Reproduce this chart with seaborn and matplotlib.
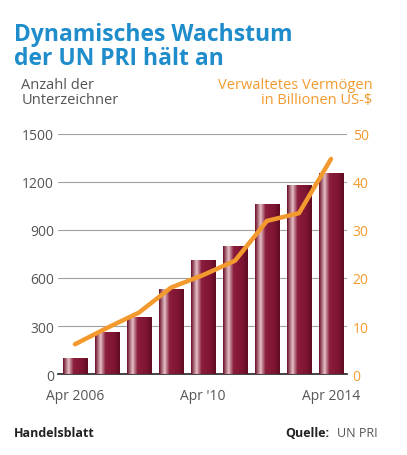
import numpy as np
import pandas as pd
import seaborn as sns
import matplotlib.pyplot as plt
from matplotlib.colors import LinearSegmentedColormap

# data
years = ['2006', '2007', '2008', '2009', '2010', '2011', '2012', '2013', '2014']
signatories = [100, 264, 354, 531, 714, 798, 1062, 1181, 1254]
assets = [6.2, 9.6, 12.8, 18.0, 20.6, 23.6, 31.9, 33.5, 44.8]
tick_labels = ['Apr 2006', '', '', '', "Apr '10", '', '', '', 'Apr 2014']

BLUE = '#1f8ccb'
ORANGE = '#f39a2e'
MAROON = '#7c1432'
GREY = '#555555'

sns.set_style('white')
plt.rcParams['font.family'] = ['Open Sans', 'DejaVu Sans']

df = pd.DataFrame({'year': years, 'signatories': signatories, 'assets': assets})

fig = plt.figure(figsize=(4.07, 4.56), dpi=100)
ax = fig.add_axes([0.1425, 0.1776, 0.7101, 0.5264])

sns.barplot(data=df, x='year', y='signatories', color=MAROON, width=0.75,
            saturation=1, ax=ax, zorder=2)

# shiny gradient on each bar
shine = LinearSegmentedColormap.from_list(
    'shine', [(0, '#6a0f28'), (0.22, '#e6c1c7'), (0.42, '#8a1e3c'),
              (0.8, MAROON), (1, '#5e0c22')])
grad = np.linspace(0, 1, 64).reshape(1, -1)
for p in ax.patches:
    x0, y0 = p.get_x(), p.get_y()
    w, h = p.get_width(), p.get_height()
    im = ax.imshow(grad, cmap=shine, aspect='auto', extent=[x0, x0 + w, y0, y0 + h],
                   zorder=3)
    im.set_clip_path(p)

ax.set_xlim(-0.53, 8.5)
ax.set_ylim(0, 1500)
ax.set_yticks([0, 300, 600, 900, 1200, 1500])
ax.yaxis.grid(True, color='#a0a0a0', linewidth=0.8, zorder=0)
ax.set_axisbelow(True)
ax.set_xticks(range(9))
ax.set_xticklabels(tick_labels, color=GREY, fontsize=10)
ax.tick_params(axis='x', length=0, pad=10)
ax.tick_params(axis='y', length=0, labelcolor=GREY, labelsize=10, pad=3)
ax.set_xticks(np.arange(0.5, 8.5, 1), minor=True)
ax.tick_params(axis='x', which='minor', direction='in', length=3, color='black', width=0.8)
ax.set_xlabel('')
ax.set_ylabel('')
for s in ['top', 'right', 'left']:
    ax.spines[s].set_visible(False)
ax.spines['bottom'].set_color('#222222')
ax.spines['bottom'].set_linewidth(1.2)

ax2 = ax.twinx()
sns.lineplot(x=np.arange(9), y=df['assets'], color=ORANGE, linewidth=3.2, ax=ax2,
             zorder=4)
ax2.set_ylim(0, 50)
ax2.set_yticks([0, 10, 20, 30, 40, 50])
ax2.tick_params(axis='y', length=0, labelcolor=ORANGE, labelsize=10, pad=4)
ax2.set_ylabel('')
for s in ['top', 'right', 'left', 'bottom']:
    ax2.spines[s].set_visible(False)
ax.set_zorder(1)
ax2.set_zorder(2)

fig.text(0.035, 0.95, 'Dynamisches Wachstum\nder UN PRI hält an', color=BLUE,
         fontsize=16.5, fontweight='bold', va='top', ha='left', linespacing=1.02)
fig.text(0.052, 0.83, 'Anzahl der\nUnterzeichner', color=GREY, fontsize=10.5,
         va='top', ha='left', linespacing=1.0)
fig.text(0.915, 0.83, 'Verwaltetes Vermögen\nin Billionen US-$', color=ORANGE,
         fontsize=10.5, va='top', ha='right', multialignment='right', linespacing=1.0)
fig.text(0.035, 0.05, 'Handelsblatt', color='#222222', fontsize=9,
         fontweight='bold', va='center', ha='left')
fig.text(0.928, 0.05, 'UN PRI', color=GREY, fontsize=9, va='center', ha='right')
fig.text(0.81, 0.05, 'Quelle:', color='#222222', fontsize=9, fontweight='bold',
         va='center', ha='right')

fig.savefig('out.png', dpi=100)
